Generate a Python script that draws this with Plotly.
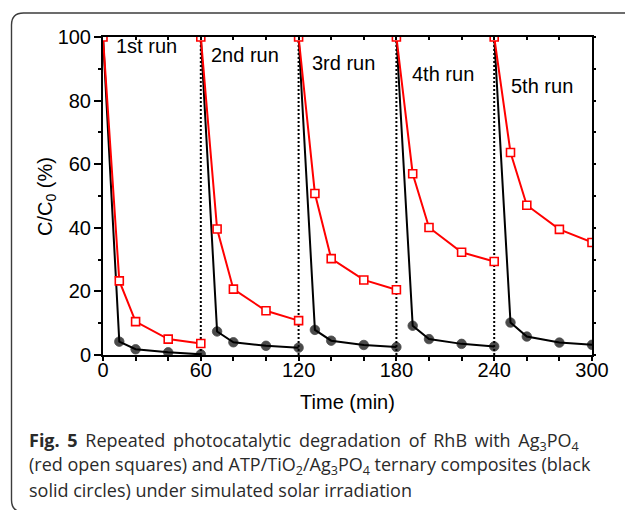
import plotly.graph_objects as go

# C/C0 (%) against time (min) for five consecutive runs, 5 samples per run
time = [0, 10, 20, 40, 60,
        60, 70, 80, 100, 120,
        120, 130, 140, 160, 180,
        180, 190, 200, 220, 240,
        240, 250, 260, 280, 300]
ag3po4 = [100, 23.3, 10.5, 5.0, 3.6,
          100, 39.6, 20.7, 13.9, 10.8,
          100, 50.8, 30.3, 23.6, 20.5,
          100, 57.0, 40.1, 32.3, 29.4,
          100, 63.7, 47.1, 39.5, 35.4]
ternary = [100, 4.2, 1.8, 0.85, 0.2,
           100, 7.4, 4.0, 2.9, 2.3,
           100, 7.9, 4.5, 3.15, 2.5,
           100, 9.2, 5.0, 3.5, 2.7,
           100, 10.2, 5.8, 3.9, 3.2]
run_breaks = [60, 120, 180, 240]
run_labels = ["1st run", "2nd run", "3rd run", "4th run", "5th run"]

caption = [
    "<b>Fig. 5</b> Repeated photocatalytic degradation of RhB with Ag<sub>3</sub>PO<sub>4</sub>",
    "(red open squares) and ATP/TiO<sub>2</sub>/Ag<sub>3</sub>PO<sub>4</sub> ternary composites (black",
    "solid circles) under simulated solar irradiation",
]

W, H = 625, 510
L, T, PW, PH = 103, 37, 489, 318
FONT = "Liberation Sans, Arial, sans-serif"


def px_x(p):
    return (p - L) / PW


def px_y(p):
    return (T + PH - p) / PH


def split_runs(values, n=5):
    xs, ys = [], []
    for i in range(0, len(time), n):
        xs += time[i:i + n] + [None]
        ys += values[i:i + n] + [None]
    return xs, ys


fig = go.Figure()

# dotted separators between runs
sx, sy = [], []
for b in run_breaks:
    sx += [b, b, None]
    sy += [0, 100, None]
fig.add_trace(go.Scatter(x=sx, y=sy, mode="lines",
                         line=dict(color="black", width=2, dash="2px,2px"),
                         showlegend=False, hoverinfo="skip"))

bx, by = split_runs(ternary)
fig.add_trace(go.Scatter(
    x=bx, y=by, mode="lines+markers",
    line=dict(color="black", width=2),
    marker=dict(symbol="circle", color="black",
                size=[0 if (v is None or v == 100) else 9.5 for v in by],
                line=dict(color="black", width=0.8)),
    showlegend=False))

rx, ry = split_runs(ag3po4)
fig.add_trace(go.Scatter(
    x=rx, y=ry, mode="lines+markers",
    line=dict(color="#ff0000", width=2),
    marker=dict(symbol="square", color="white", size=8,
                line=dict(color="#ff0000", width=1.6)),
    showlegend=False))

# invisible traces so the extra tick-only axes are drawn
for xa, ya in (("x2", "y2"), ("x3", "y3")):
    fig.add_trace(go.Scatter(x=[0], y=[0], xaxis=xa, yaxis=ya,
                             mode="markers", marker=dict(opacity=0),
                             showlegend=False, hoverinfo="skip"))

label_pos = [(26.5, 97.3), (87, 94.4), (147.6, 91.9), (208.4, 88.3), (269.6, 84.6)]
for text, (lx, ly) in zip(run_labels, label_pos):
    fig.add_annotation(x=lx, y=ly, text=text, showarrow=False,
                       font=dict(family=FONT, size=20, color="black"))

# y axis title
fig.add_annotation(xref="paper", yref="paper", x=px_x(46), y=px_y(197),
                   text="C/C<sub>0</sub> (%)", textangle=-90, showarrow=False,
                   xanchor="center", yanchor="middle",
                   font=dict(family=FONT, size=20, color="black"))

cap_y = [441.5, 465.5, 489.5]
cap_text = [caption[0].replace(" ", " \u2006"), caption[1], caption[2]]
for line, cy in zip(cap_text, cap_y):
    fig.add_annotation(xref="paper", yref="paper", x=px_x(27), y=px_y(cy),
                       xanchor="left", yanchor="middle", text=line,
                       showarrow=False,
                       font=dict(family="Open Sans, sans-serif", size=18,
                                 color="#2a2a2a"))

# rounded frame around figure + caption
lft, top, rgt, bot, r = 11.5, 13, 650, 512, 12
path = (f"M {px_x(rgt)},{px_y(top)} L {px_x(lft + r)},{px_y(top)} "
        f"Q {px_x(lft)},{px_y(top)} {px_x(lft)},{px_y(top + r)} "
        f"L {px_x(lft)},{px_y(bot - r)} "
        f"Q {px_x(lft)},{px_y(bot)} {px_x(lft + r)},{px_y(bot)} "
        f"L {px_x(rgt)},{px_y(bot)}")
fig.add_shape(type="path", xref="paper", yref="paper", path=path,
              line=dict(color="#3c3c3c", width=1.4))

tickfont = dict(family=FONT, size=20, color="black")
titlefont = dict(family=FONT, size=20, color="black")
hidden = dict(showticklabels=False, showgrid=False, zeroline=False,
              showline=False, tickcolor="black", tickwidth=1.5)

fig.update_layout(
    width=W, height=H,
    margin=dict(l=L, r=W - L - PW, t=T, b=H - T - PH),
    paper_bgcolor="white", plot_bgcolor="white",
    xaxis=dict(range=[0, 300], tick0=0, dtick=60, ticks="",
               showgrid=False, zeroline=False, showline=True,
               linecolor="black", linewidth=2, mirror=True,
               tickfont=tickfont, ticklabelstandoff=-4,
               title=dict(text="Time (min)", standoff=15, font=titlefont)),
    yaxis=dict(range=[0, 100], tick0=0, dtick=20, ticks="",
               showgrid=False, zeroline=False, showline=True,
               linecolor="black", linewidth=2, mirror=True,
               tickfont=tickfont, ticklabelstandoff=6),
    # bottom ticks every 20 min
    xaxis3=dict(overlaying="x", side="bottom", anchor="y3", range=[0, 300],
                tick0=0, dtick=20, ticks="outside", ticklen=5, **hidden),
    # left ticks: major 20, minor 10
    yaxis3=dict(overlaying="y", side="left", anchor="x3", range=[0, 100],
                tick0=0, dtick=20, ticks="outside", ticklen=8,
                minor=dict(dtick=10, ticks="outside", ticklen=4,
                           tickcolor="black", tickwidth=1.5),
                **hidden),
    # top ticks pointing in
    xaxis2=dict(overlaying="x", side="top", anchor="y2", range=[0, 300],
                tick0=0, dtick=20, ticks="inside", ticklen=3, **hidden),
    # right ticks every 10
    yaxis2=dict(overlaying="y", side="right", anchor="x2", range=[0, 100],
                tick0=0, dtick=10, ticks="outside", ticklen=3, **hidden),
)

fig.write_html("out.html", config={"displayModeBar": False},
               post_script="document.body.style.margin='0';")
